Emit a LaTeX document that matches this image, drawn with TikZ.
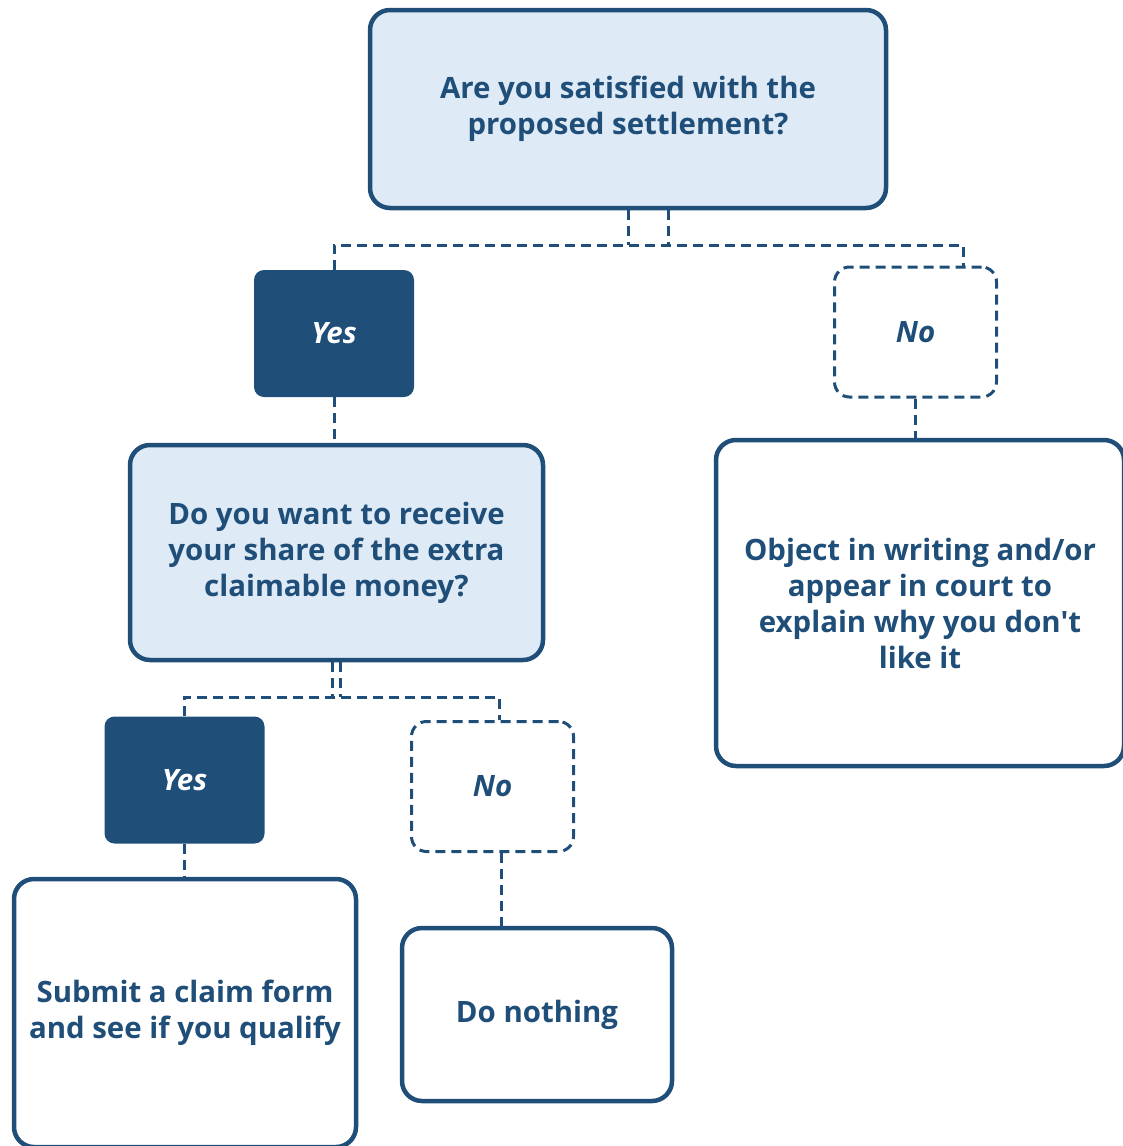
\documentclass[tikz,border=0pt]{standalone}
\usepackage{fontspec}
\setmainfont{Open Sans}[Ligatures=TeXOff]
\usepackage{tikz}
\definecolor{navy}{RGB}{31,78,121}
\definecolor{paleblue}{RGB}{222,234,246}
\tikzset{
  qbox/.style={draw=navy, line width=4.5pt, rounded corners=20pt, fill=paleblue,
    text=navy, font=\fontsize{29.4}{36}\selectfont\bfseries, align=center, inner sep=0pt},
  abox/.style={draw=navy, line width=4.5pt, rounded corners=20pt, fill=white,
    text=navy, font=\fontsize{29.4}{36}\selectfont\bfseries, align=center, inner sep=0pt},
  yesbox/.style={fill=navy, rounded corners=10pt, text=white,
    font=\fontsize{29.4}{36}\selectfont\bfseries\itshape, minimum width=160pt, minimum height=127pt},
  nobox/.style={draw=navy, line width=3pt, dash pattern=on 10pt off 6pt, rounded corners=15pt,
    text=navy, font=\fontsize{29.4}{36}\selectfont\bfseries\itshape, minimum width=162pt, minimum height=130pt},
  conn/.style={draw=navy, line width=3pt, dash pattern=on 10pt off 6pt}
}
\begin{document}
\begin{tikzpicture}[x=1pt,y=-1pt]
                \useasboundingbox (0,0) rectangle (1123,1146);
                
                % Questions
                \node[qbox, minimum width=516pt, minimum height=198pt] (q1) at (628,109)
                    {Are you satisfied with the\\proposed settlement?};
                \node[qbox, minimum width=413pt, minimum height=215pt] (q2) at (336.5,552.5)
                    {Do you want to receive\\your share of the extra\\claimable money?};
                
                % Answers
                \node[yesbox] (yes1) at (334,333.5) {Yes};
                \node[nobox] (no1) at (915.5,332) {No};
                \node[yesbox] (yes2) at (184.5,780) {Yes};
                \node[nobox] (no2) at (492.5,786.5) {No};
                
                % Outcomes
                \node[abox, minimum width=408pt, minimum height=326pt] (a3) at (920,603)
                    {Object in writing and/or\\appear in court to\\explain why you don't\\like it};
                \node[abox, minimum width=342pt, minimum height=268pt] (a4) at (185,1013)
                    {Submit a claim form\\and see if you qualify};
                \node[abox, minimum width=270pt, minimum height=173pt] (a5) at (537,1014.5)
                    {Do nothing};
                
                % Split points
                \coordinate (s1) at (648,245);
                \coordinate (s2) at (341,697);
                
                % Connectors
                \draw[conn] (q1.south) -- (q1.south |- s1);
                \draw[conn] ([xshift=40pt]q1.south) -- ([xshift=40pt]q1.south |- s1);
                \draw[conn] (yes1.north) |- (s1) -| ([xshift=48pt]no1.north);
                \draw[conn] (yes1.south) -- (yes1.south |- q2.north);
                \draw[conn] (no1.south) -- (no1.south |- a3.north);
                
                \draw[conn] ([xshift=-4pt]q2.south) -- ([xshift=-4pt]q2.south |- s2);
                \draw[conn] ([xshift=4pt]q2.south) -- ([xshift=4pt]q2.south |- s2);
                \draw[conn] (yes2.north) |- (s2) -| ([xshift=6.5pt]no2.north);
                \draw[conn] (yes2.south) -- (yes2.south |- a4.north);
                \draw[conn] ([xshift=9pt]no2.south) -- ([xshift=9pt]no2.south |- a5.north);
\end{tikzpicture}
\end{document}
